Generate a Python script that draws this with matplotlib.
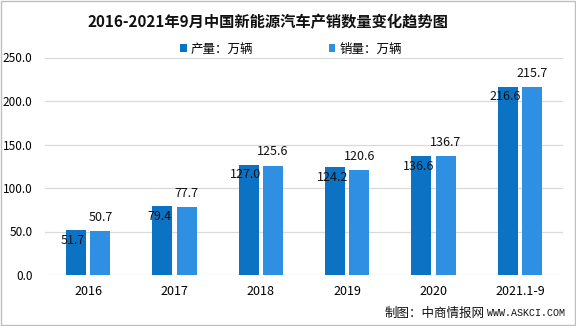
import numpy as np
import matplotlib
matplotlib.use("Agg")
import matplotlib.pyplot as plt
from matplotlib.patches import Rectangle

plt.rcParams['font.family'] = ['Noto Sans CJK SC', 'DejaVu Sans']

# data
years = ['2016', '2017', '2018', '2019', '2020', '2021.1-9']
production = [51.7, 79.4, 127.0, 124.2, 136.6, 216.6]
sales = [50.7, 77.7, 125.6, 120.6, 136.7, 215.7]
yticks = [0, 50, 100, 150, 200, 250]

dark = '#0B72C4'
light = '#2E8FE3'

fig = plt.figure(figsize=(5.76, 3.26), dpi=100)
ax = fig.add_axes([45/576, 51/326, 518/576, 217.5/326])

x = np.arange(len(years))
w = 0.23
off = 0.142
ax.bar(x - off, production, w, color=dark, zorder=3, label='产量：万辆')
ax.bar(x + off, sales, w, color=light, zorder=3, label='销量：万辆')

for xi, v in zip(x, production):
    ax.annotate(f'{v:.1f}', (xi - off, v), xytext=(-2, -7.5), textcoords='offset points',
                ha='center', va='center', fontsize=9, color='#111111', zorder=4)
for xi, v in zip(x, sales):
    ax.annotate(f'{v:.1f}', (xi + off, v), xytext=(0, 10), textcoords='offset points',
                ha='center', va='center', fontsize=9, color='#111111', zorder=4)

ax.set_xlim(-0.5, len(years) - 0.5)
ax.set_ylim(0, 250)
ax.set_yticks(yticks)
ax.set_yticklabels([f'{t:.1f}' for t in yticks], fontsize=8.5)
ax.set_xticks(x)
ax.set_xticklabels(years, fontsize=9)
ax.tick_params(length=0, pad=7)
ax.tick_params(axis='y', pad=9)
ax.yaxis.grid(True, color='#D9D9D9', linewidth=0.9, zorder=0)
for s in ax.spines.values():
    s.set_visible(False)

fig.text(268/576, 0.932, '2016-2021年9月中国新能源汽车产销数量变化趋势图',
         ha='center', va='center', fontsize=11, fontweight='bold', color='#111111')

leg = fig.legend(loc='center', bbox_to_anchor=(291/576, 0.85), ncol=2, frameon=False,
                 fontsize=9, handlelength=0.55, handleheight=0.55, handletextpad=0.35,
                 columnspacing=6.0)

fig.text(385/576, 1 - 313/326, '制图：中商情报网',
         ha='left', va='center', fontsize=9, color='#111111')
fig.text(565/576, 1 - 313/326, 'WWW.ASKCI.COM', family='Liberation Mono',
         ha='right', va='center', fontsize=7.2, color='#111111')

fig.patches.append(Rectangle((0.001, 0.002), 0.997, 0.995, transform=fig.transFigure,
                             fill=False, edgecolor='#BFBFBF', linewidth=1))

fig.savefig('out.png', dpi=100)
